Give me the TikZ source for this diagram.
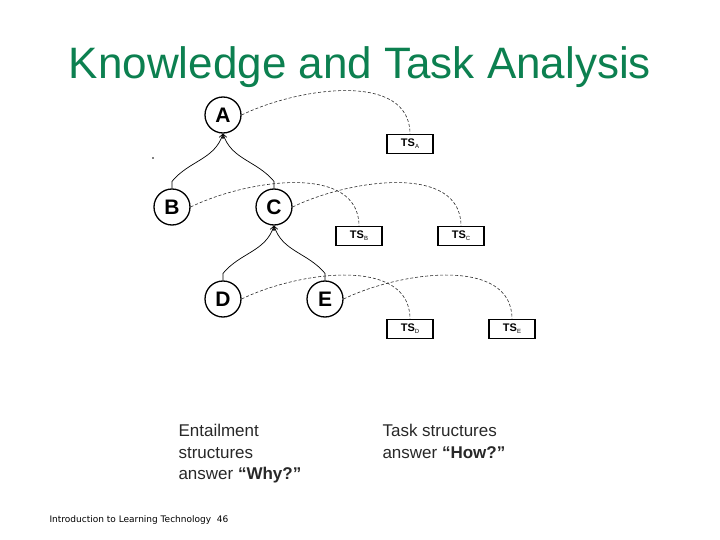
\documentclass[tikz,border=0pt]{standalone}
\usepackage{fontspec}
\setmainfont{Liberation Sans}
\newfontfamily\footfont{DejaVu Sans}
\usetikzlibrary{arrows.meta,positioning,calc}
\definecolor{titlegreen}{RGB}{12,128,80}
\definecolor{inkgray}{RGB}{40,40,40}
\newcommand{\tsname}[1]{TS\raisebox{-2pt}{\fontsize{6}{6}\selectfont\mdseries #1}}

\begin{document}
\begin{tikzpicture}[x=1pt,y=-1pt,>={Straight Barb[length=4pt,width=5pt]},
    goal/.style={circle,draw,line width=1.3pt,minimum size=36pt,inner sep=0pt,font=\fontsize{21}{21}\selectfont\bfseries},
    tsbox/.style={draw,line width=1.1pt,minimum width=46pt,minimum height=19pt,inner sep=0pt,font=\fontsize{11}{11}\selectfont\bfseries},
    link/.style={densely dashed,line width=0.6pt,inkgray},
    entail/.style={->,line width=0.7pt}]
    \useasboundingbox (0,0) rectangle (720,540);
    \def\dx{51}\def\dy{92}
    % title
    \node[titlegreen,font=\fontsize{44}{44}\selectfont] (title) at (360,67) {Knowledge and Task Analysis};
    % goals
    \node[goal] (A) at (223,115) {A};
    \node[goal] (B) at (223-\dx,115+\dy) {B};
    \node[goal] (C) at (223+\dx,115+\dy) {C};
    \node[goal] (D) at (223,115+2*\dy) {D};
    \node[goal] (E) at (223+2*\dx,115+2*\dy) {E};
    % task structures
    \node[tsbox] (tsA) at (410,144) {\tsname{A}};
    \node[tsbox] (tsB) at (359,236) {\tsname{B}};
    \node[tsbox] (tsC) at (461,236) {\tsname{C}};
    \node[tsbox] (tsD) at (410,329) {\tsname{D}};
    \node[tsbox] (tsE) at (512,329) {\tsname{E}};
    % entailment
    \draw[entail] (B.north) -- ++(0,-7) to[out=50,in=-108] (A.south);
    \draw[entail] (C.north) -- ++(0,-7) to[out=130,in=-72] (A.south);
    \draw[entail] (D.north) -- ++(0,-7) to[out=50,in=-108] (C.south);
    \draw[entail] (E.north) -- ++(0,-7) to[out=130,in=-72] (C.south);
    % goal to task structure
    \draw[link] (A.east) to[out=26,in=90,looseness=0.95] (tsA.north);
    \draw[link] (B.east) to[out=26,in=90,looseness=0.95] (tsB.north);
    \draw[link] (C.east) to[out=26,in=90,looseness=0.95] (tsC.north);
    \draw[link] (D.east) to[out=26,in=90,looseness=0.95] (tsD.north);
    \draw[link] (E.east) to[out=26,in=90,looseness=0.95] (tsE.north);
    \fill (153,158) circle (0.8pt);
    % captions
    \node[inkgray,align=left,anchor=north west,font=\fontsize{17}{21.5}\selectfont] (why) at (175,421)
      {Entailment\\structures\\answer \textbf{``Why?''}};
    \node[inkgray,align=left,anchor=north west,font=\fontsize{17}{21.5}\selectfont] (how) at (379,421)
      {Task structures\\answer \textbf{``How?''}};
    \node[anchor=west,font=\footfont\fontsize{9}{9}\selectfont] (foot) at (46,520) {Introduction to Learning Technology\ \ 46};
\end{tikzpicture}
\end{document}
